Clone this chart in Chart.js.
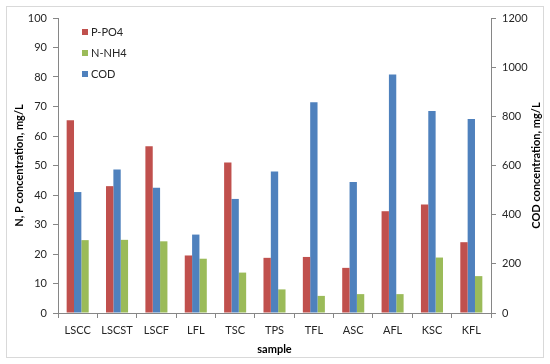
<!DOCTYPE html>
<html>
<head>
<meta charset="utf-8">
<script src="https://cdn.jsdelivr.net/npm/chart.js@4/dist/chart.umd.min.js"></script>
<style>
  html, body { margin: 0; padding: 0; background: #fff; }
</style>
</head>
<body>
<canvas id="myChart" width="550" height="364"></canvas>
<script>
var samples = ["LSCC", "LSCST", "LSCF", "LFL", "TSC", "TPS", "TFL", "ASC", "AFL", "KSC", "KFL"];
var pPO4 = [65.3, 43.0, 56.5, 19.5, 51.0, 18.7, 19.0, 15.3, 34.5, 36.8, 24.0];
var nNH4 = [24.7, 24.8, 24.3, 18.4, 13.7, 8.0, 5.8, 6.4, 6.4, 18.8, 12.5];
var cod = [492, 584, 510, 319, 464, 576, 857, 533, 970, 822, 789];

var red = "#C0504D", green = "#9BBB59", blue = "#4F81BD";
var fontName = "Lato, 'Open Sans', sans-serif";

// legend order differs from bar order, so it is drawn by hand
var legendItems = [
    { label: "P-PO4", color: red },
    { label: "N-NH4", color: green },
    { label: "COD", color: blue }
];

var extras = {
    id: "extras",
    beforeDraw: function (chart) {
        var ctx = chart.ctx;
        ctx.save();
        ctx.fillStyle = "#fff";
        ctx.fillRect(0, 0, chart.width, chart.height);
        ctx.strokeStyle = "#d9d9d9";
        ctx.lineWidth = 1;
        ctx.strokeRect(6.5, 6.5, 537, 351);
        ctx.restore();
    },
    afterDraw: function (chart) {
        var ctx = chart.ctx;
        ctx.save();
        ctx.font = "11px " + fontName;
        ctx.textBaseline = "middle";
        for (var i = 0; i < legendItems.length; i++) {
            var y = 32 + i * 21;
            ctx.fillStyle = legendItems[i].color;
            ctx.fillRect(82, y - 3, 6, 6);
            ctx.fillStyle = "#262626";
            ctx.fillText(legendItems[i].label, 91, y);
        }
        // right axis title reads bottom-to-top
        var area = chart.chartArea;
        ctx.translate(536, (area.top + area.bottom) / 2);
        ctx.rotate(-Math.PI / 2);
        ctx.font = "bold 11px " + fontName;
        ctx.textAlign = "center";
        ctx.fillStyle = "#000";
        ctx.fillText("COD concentration, mg/L", 0, 0);
        ctx.restore();
    }
};

var tickFont = { family: fontName, size: 11 };
var titleFont = { family: fontName, size: 11, weight: "bold" };

var chart = new Chart("myChart", {
    type: "bar",
    data: {
        labels: samples,
        datasets: [
            { label: "P-PO4", data: pPO4, backgroundColor: red, yAxisID: "y" },
            { label: "COD", data: cod, backgroundColor: blue, yAxisID: "y1" },
            { label: "N-NH4", data: nNH4, backgroundColor: green, yAxisID: "y" }
        ]
    },
    options: {
        responsive: false,
        animation: false,
        devicePixelRatio: 1,
        datasets: { bar: { categoryPercentage: 0.56, barPercentage: 1.0 } },
        layout: { padding: { left: 10, right: 8, top: 18, bottom: 8 } },
        plugins: { legend: { display: false }, tooltip: { enabled: false } },
        scales: {
            x: {
                grid: { drawOnChartArea: false, tickLength: 5, color: "#868686" },
                border: { color: "#868686" },
                ticks: { font: tickFont, color: "#262626", padding: 6 },
                title: { display: true, text: "sample", font: titleFont, color: "#000", padding: { top: 4, bottom: 0 } },
                afterFit: function (scale) { scale.height = 43; }
            },
            y: {
                position: "left",
                min: 0, max: 100,
                ticks: { stepSize: 10, font: tickFont, color: "#262626", padding: 6 },
                grid: { drawOnChartArea: false, tickLength: 5, color: "#868686" },
                border: { color: "#868686" },
                title: { display: true, text: "N, P concentration, mg/L", font: titleFont, color: "#000", padding: { top: 3, bottom: 0 } },
                afterFit: function (scale) { scale.width = 48; }
            },
            y1: {
                position: "right",
                min: 0, max: 1200,
                ticks: {
                    stepSize: 200, font: tickFont, color: "#262626", padding: 6,
                    callback: function (value) { return String(value); }
                },
                grid: { drawOnChartArea: false, tickLength: 5, color: "#868686" },
                border: { color: "#868686" },
                afterFit: function (scale) { scale.width = 51; }
            }
        }
    },
    plugins: [extras]
});
</script>
</body>
</html>
